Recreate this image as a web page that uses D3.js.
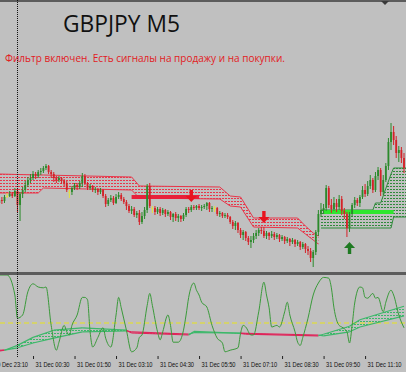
<!DOCTYPE html>
<html>
<head>
<meta charset="utf-8">
<script src="https://cdn.jsdelivr.net/npm/d3@7"></script>
<style>
  body { margin: 0; background: #c0c0c0; }
  svg { display: block; }
</style>
</head>
<body>
<div id="chart"></div>
<script>
// texts on the chart
var symbolTitle = 'GBPJPY M5';
var filterNote = 'Фильтр включен. Есть сигналы на продажу и на покупки.';

// M5 bars, the first one is 30 Dec 23:25
var firstBar = Date.UTC(2014, 11, 30, 23, 25);
var barMinutes = 5;

var opens = [
  152.97, 153.00, 152.99, 153.04, 153.04, 153.06, 153.04, 153.09, 152.95, 153.06,
  153.10, 153.15, 153.20, 153.22, 153.26, 153.24, 153.28, 153.29, 153.32, 153.34,
  153.28, 153.26, 153.22, 153.20, 153.22, 153.19, 153.17, 153.08, 153.08, 153.12,
  153.15, 153.13, 153.17, 153.24, 153.17, 153.12, 153.14, 153.10, 153.11, 153.08,
  153.10, 153.04, 152.96, 153.00, 153.02, 152.97, 153.03, 153.05, 153.01, 152.98,
  152.94, 152.89, 152.91, 152.85, 152.87, 152.78, 152.84, 152.90, 153.14, 152.92,
  152.92, 152.88, 152.91, 152.87, 152.90, 152.86, 152.88, 152.83, 152.86, 152.82,
  152.84, 152.81, 152.85, 152.91, 152.90, 152.93, 152.92, 152.94, 152.92, 152.93,
  152.94, 152.97, 152.91, 152.92, 152.92, 152.86, 152.87, 152.84, 152.85, 152.83,
  152.78, 152.74, 152.77, 152.70, 152.65, 152.68, 152.62, 152.58, 152.60, 152.64,
  152.67, 152.70, 152.69, 152.64, 152.67, 152.64, 152.66, 152.63, 152.65, 152.61,
  152.63, 152.59, 152.61, 152.58, 152.60, 152.56, 152.58, 152.53, 152.56, 152.51,
  152.49, 152.42, 152.48, 152.68, 152.86, 152.90, 152.92, 153.12, 152.95, 152.91,
  152.97, 152.93, 153.01, 152.89, 152.86, 152.72, 152.86, 152.95, 153.00, 152.97,
  153.03, 153.10, 153.06, 153.14, 153.20, 153.10, 153.24, 153.30, 153.08, 153.20,
  153.34, 153.58, 153.68, 153.60, 153.47, 153.50, 153.42
];
var highs = [
  153.03, 153.03, 153.05, 153.07, 153.09, 153.08, 153.12, 153.11, 153.08, 153.13,
  153.19, 153.23, 153.26, 153.29, 153.28, 153.30, 153.32, 153.34, 153.36, 153.35,
  153.30, 153.28, 153.24, 153.24, 153.23, 153.21, 153.19, 153.10, 153.14, 153.17,
  153.17, 153.19, 153.27, 153.26, 153.18, 153.16, 153.15, 153.13, 153.12, 153.12,
  153.11, 153.06, 153.02, 153.05, 153.04, 153.06, 153.08, 153.07, 153.03, 153.00,
  152.96, 152.94, 152.93, 152.89, 152.90, 152.88, 152.93, 153.16, 153.17, 152.94,
  152.94, 152.93, 152.93, 152.92, 152.91, 152.90, 152.89, 152.87, 152.88, 152.86,
  152.85, 152.87, 152.93, 152.93, 152.95, 152.95, 152.95, 152.96, 152.95, 152.96,
  152.98, 152.98, 152.94, 152.94, 152.93, 152.89, 152.88, 152.87, 152.87, 152.84,
  152.80, 152.79, 152.78, 152.72, 152.70, 152.69, 152.64, 152.64, 152.67, 152.70,
  152.72, 152.73, 152.73, 152.69, 152.68, 152.69, 152.68, 152.67, 152.66, 152.65,
  152.64, 152.63, 152.62, 152.62, 152.61, 152.60, 152.59, 152.58, 152.57, 152.54,
  152.52, 152.50, 152.70, 152.90, 152.97, 152.96, 153.15, 153.14, 153.01, 153.03,
  153.01, 153.05, 153.04, 152.92, 152.88, 152.88, 152.97, 153.03, 153.02, 153.05,
  153.14, 153.16, 153.19, 153.25, 153.22, 153.28, 153.33, 153.32, 153.25, 153.37,
  153.62, 153.77, 153.74, 153.64, 153.54, 153.53, 153.47
];
var lows = [
  152.95, 152.96, 152.97, 153.02, 153.03, 153.02, 153.03, 152.88, 152.79, 153.02,
  153.08, 153.13, 153.17, 153.20, 153.21, 153.22, 153.25, 153.27, 153.30, 153.26,
  153.22, 153.18, 153.17, 153.18, 153.16, 153.14, 153.08, 153.02, 153.05, 153.10,
  153.10, 153.11, 153.13, 153.15, 153.10, 153.10, 153.08, 153.07, 153.05, 153.06,
  153.02, 152.93, 152.94, 152.98, 152.95, 152.96, 153.01, 152.99, 152.96, 152.90,
  152.87, 152.86, 152.83, 152.82, 152.75, 152.76, 152.81, 152.87, 152.92, 152.87,
  152.85, 152.86, 152.84, 152.85, 152.83, 152.84, 152.80, 152.78, 152.79, 152.78,
  152.78, 152.79, 152.83, 152.87, 152.88, 152.90, 152.90, 152.90, 152.89, 152.91,
  152.90, 152.88, 152.88, 152.88, 152.84, 152.83, 152.82, 152.82, 152.81, 152.76,
  152.71, 152.70, 152.67, 152.62, 152.60, 152.59, 152.55, 152.52, 152.57, 152.61,
  152.64, 152.66, 152.62, 152.61, 152.60, 152.62, 152.60, 152.61, 152.58, 152.59,
  152.56, 152.57, 152.54, 152.56, 152.53, 152.54, 152.50, 152.51, 152.47, 152.45,
  152.38, 152.33, 152.45, 152.64, 152.83, 152.86, 152.89, 152.92, 152.87, 152.89,
  152.88, 152.90, 152.85, 152.81, 152.63, 152.68, 152.83, 152.92, 152.94, 152.93,
  153.01, 153.03, 153.04, 153.11, 153.07, 153.08, 153.20, 153.04, 153.05, 153.18,
  153.30, 153.50, 153.55, 153.42, 153.38, 153.37, 153.27
];
var closes = [
  153.00, 152.99, 153.03, 153.04, 153.06, 153.04, 153.09, 152.95, 153.06, 153.10,
  153.15, 153.20, 153.22, 153.26, 153.24, 153.28, 153.29, 153.32, 153.34, 153.28,
  153.26, 153.22, 153.20, 153.22, 153.19, 153.17, 153.10, 153.08, 153.12, 153.15,
  153.13, 153.17, 153.24, 153.17, 153.12, 153.14, 153.10, 153.11, 153.08, 153.10,
  153.04, 152.96, 153.00, 153.02, 152.97, 153.03, 153.05, 153.01, 152.98, 152.94,
  152.89, 152.91, 152.85, 152.87, 152.78, 152.84, 152.90, 153.14, 152.94, 152.92,
  152.88, 152.91, 152.87, 152.90, 152.86, 152.88, 152.83, 152.86, 152.82, 152.84,
  152.81, 152.85, 152.91, 152.90, 152.93, 152.92, 152.94, 152.92, 152.93, 152.94,
  152.97, 152.91, 152.92, 152.92, 152.86, 152.87, 152.84, 152.85, 152.83, 152.78,
  152.74, 152.77, 152.70, 152.65, 152.68, 152.62, 152.58, 152.60, 152.64, 152.67,
  152.70, 152.69, 152.64, 152.67, 152.64, 152.66, 152.63, 152.65, 152.61, 152.63,
  152.59, 152.61, 152.58, 152.60, 152.56, 152.58, 152.53, 152.56, 152.51, 152.49,
  152.42, 152.48, 152.68, 152.86, 152.90, 152.92, 153.12, 152.95, 152.91, 152.97,
  152.93, 153.01, 152.89, 152.86, 152.72, 152.86, 152.95, 153.00, 152.97, 153.03,
  153.10, 153.06, 153.14, 153.20, 153.10, 153.24, 153.30, 153.08, 153.20, 153.34,
  153.58, 153.68, 153.60, 153.47, 153.50, 153.42, 153.32
];

// filter channel (bar index, upper / lower edge)
var sellBandBars = [0, 15, 17, 51, 54, 85, 89, 93, 98, 115, 118, 121, 123];
var sellBandTop = [153.26, 153.25, 153.25, 153.23, 153.14, 153.13, 153.04, 153.03, 152.82, 152.82, 152.74, 152.67, 152.64];
var sellBandBottom = [153.07, 153.07, 153.12, 153.10, 153.02, 153.01, 152.94, 152.93, 152.73, 152.72, 152.66, 152.60, 152.56];
var buyBandBars = [124, 144, 145, 147, 151, 152, 157];
var buyBandTop = [152.90, 152.90, 152.97, 152.97, 153.26, 153.32, 153.32];
var buyBandBottom = [152.72, 152.72, 152.72, 152.72, 152.72, 152.83, 152.83];

// signal levels and arrows
var sellLineBars = [51, 77], sellLinePrice = 153.03;
var buyLineBars = [125, 152], buyLinePrice = 152.88;
var sellArrowBars = [74, 102], sellArrowPrices = [152.98, 152.77];
var buyArrowBars = [135], buyArrowPrices = [152.58];

// oscillator in the lower window
var oscBars = [0, 3, 6, 7, 9, 11, 13, 15, 17, 18, 20, 22, 23, 25, 26, 27, 28, 30, 32, 33,
  34, 35, 36, 38, 40, 41, 43, 45, 46, 47, 49, 51, 53, 54, 55, 57, 58, 59, 61, 62,
  63, 65, 66, 67, 69, 71, 72, 73, 75, 76, 77, 78, 80, 82, 84, 86, 87, 89, 92, 93,
  94, 95, 97, 98, 100, 102, 103, 104, 105, 107, 108, 110, 111, 112, 114, 115, 116, 117, 119, 121,
  123, 125, 127, 128, 129, 131, 132, 134, 135, 136, 137, 139, 140, 141, 142, 144, 145, 146, 148, 149,
  151, 152, 154, 156];
var oscValues = [100, 100, 75, 46, 50, 79, 89, 85, 84, 85, 37, 6, 16, 37, 29, 25, 37, 50, 72, 72,
  69, 29, 10, 22, 34, 21, 10, 50, 72, 59, 31, 4, 9, 22, 25, 62, 77, 62, 29, 19,
  29, 50, 37, 16, 16, 31, 50, 72, 90, 81, 75, 66, 60, 37, 21, 15, 4, 6, 9, 27,
  37, 35, 25, 25, 54, 91, 75, 59, 35, 37, 35, 54, 66, 50, 29, 16, 12, 22, 46, 75,
  90, 97, 96, 84, 59, 37, 35, 29, 15, 37, 65, 85, 84, 72, 71, 77, 71, 72, 54, 66,
  81, 75, 50, 34];
var oscLevel = 40;

// fast / slow averages of the oscillator
var maBars = [0, 2, 7, 13, 21, 32, 49, 51, 73, 75, 93, 95, 123, 125, 135, 139, 156];
var maFast = [5, 6, 12, 22, 31, 34, 31, 27.5, 25, 29.5, 27, 26, 24, 26, 36, 44, 61];
var maSlow = [6, 6, 9, 15, 21, 29, 30, 29, 26, 28, 27.5, 27, 25, 24, 29, 35, 49];

// time labels
var dayStarts = ['31 Dec 00:00'];
var timeTicks = ['30 Dec 23:10', '31 Dec 00:30', '31 Dec 01:50', '31 Dec 03:10', '31 Dec 04:30',
  '31 Dec 05:50', '31 Dec 07:10', '31 Dec 08:30', '31 Dec 09:50', '31 Dec 11:10', '31 Dec 12:30'];

var width = 406, height = 372;
var mainTop = 2, mainBottom = 272, oscTop = 275, oscBottom = 355;

var parseTick = d3.utcParse('%Y %d %b %H:%M');
function tickDate(s) { return parseTick('2014 ' + s); }
function barTime(i) { return new Date(firstBar + i * barMinutes * 60000); }

var x = d3.scaleUtc()
  .domain([barTime(0), barTime(156)])
  .range([-0.7, 404]);

var y = d3.scaleLinear()
  .domain([152.28, 154.98])
  .range([mainBottom, mainTop]);

var yOsc = d3.scaleLinear()
  .domain([0, 100])
  .range([oscBottom, oscTop]);

var bars = closes.map(function(c, i) {
  return { t: barTime(i), o: opens[i], h: highs[i], l: lows[i], c: c };
});

var svg = d3.select('#chart').append('svg')
  .attr('width', width)
  .attr('height', height);

svg.append('rect').attr('width', width).attr('height', height).attr('fill', '#c0c0c0');

// dotted fill patterns
var defs = svg.append('defs');
function dotPattern(id, color) {
  var p = defs.append('pattern')
    .attr('id', id)
    .attr('width', 3)
    .attr('height', 3)
    .attr('patternUnits', 'userSpaceOnUse');
  p.append('rect').attr('width', 2).attr('height', 1).attr('fill', color);
}
dotPattern('dotsRed', '#e8364a');
dotPattern('dotsGreen', '#2f8a3a');
dotPattern('dotsOscGreen', '#3cb86a');
dotPattern('dotsOscRed', '#e0245a');

defs.append('clipPath').attr('id', 'mainClip')
  .append('rect').attr('x', 0).attr('y', mainTop).attr('width', width).attr('height', mainBottom - mainTop);

var main = svg.append('g').attr('clip-path', 'url(#mainClip)');

// channel bands
function drawBand(barsIdx, top, bottom, pattern, edge) {
  var pts = barsIdx.map(function(b, i) { return { t: barTime(b), hi: top[i], lo: bottom[i] }; });
  var area = d3.area()
    .x(function(d) { return x(d.t); })
    .y0(function(d) { return y(d.lo); })
    .y1(function(d) { return y(d.hi); });
  main.append('path').datum(pts).attr('d', area).attr('fill', 'url(#' + pattern + ')');
  var lineTop = d3.line().x(function(d) { return x(d.t); }).y(function(d) { return y(d.hi); });
  var lineBot = d3.line().x(function(d) { return x(d.t); }).y(function(d) { return y(d.lo); });
  main.append('path').datum(pts).attr('d', lineTop).attr('fill', 'none').attr('stroke', edge).attr('stroke-width', 1);
  main.append('path').datum(pts).attr('d', lineBot).attr('fill', 'none').attr('stroke', edge).attr('stroke-width', 1);
}
drawBand(sellBandBars, sellBandTop, sellBandBottom, 'dotsRed', '#e8364a');
drawBand(buyBandBars, buyBandTop, buyBandBottom, 'dotsGreen', '#2f8a3a');

// signal levels
main.append('line')
  .attr('x1', x(barTime(sellLineBars[0]))).attr('x2', x(barTime(sellLineBars[1])))
  .attr('y1', y(sellLinePrice)).attr('y2', y(sellLinePrice))
  .attr('stroke', '#e8203a').attr('stroke-width', 4);
main.append('line')
  .attr('x1', x(barTime(buyLineBars[0]))).attr('x2', x(barTime(buyLineBars[1])))
  .attr('y1', y(buyLinePrice)).attr('y2', y(buyLinePrice))
  .attr('stroke', '#2ee62e').attr('stroke-width', 4);

// candles
function candleColor(d) {
  if (d.c > d.o) return '#2b8a2b';
  if (d.c < d.o) return '#d42228';
  return '#e6e23a';
}
var candles = main.selectAll('g.candle').data(bars).enter().append('g').attr('class', 'candle');
candles.append('line')
  .attr('x1', function(d) { return x(d.t); })
  .attr('x2', function(d) { return x(d.t); })
  .attr('y1', function(d) { return y(d.h); })
  .attr('y2', function(d) { return y(d.l); })
  .attr('stroke', candleColor)
  .attr('stroke-width', 1);
candles.append('rect')
  .attr('x', function(d) { return x(d.t) - 0.9; })
  .attr('width', 1.8)
  .attr('y', function(d) { return y(Math.max(d.o, d.c)); })
  .attr('height', function(d) { return Math.max(1, Math.abs(y(d.o) - y(d.c))); })
  .attr('fill', candleColor);

// signal arrows, tip at the given price
var arrowDown = 'M0,0 L-5.5,-6 L-1.7,-6 L-1.7,-12 L1.7,-12 L1.7,-6 L5.5,-6 Z';
var arrowUp = 'M0,0 L-5.5,6 L-1.7,6 L-1.7,12 L1.7,12 L1.7,6 L5.5,6 Z';
sellArrowBars.forEach(function(b, i) {
  main.append('path').attr('d', arrowDown)
    .attr('transform', 'translate(' + x(barTime(b)) + ',' + y(sellArrowPrices[i]) + ')')
    .attr('fill', '#e8141e');
});
buyArrowBars.forEach(function(b, i) {
  main.append('path').attr('d', arrowUp)
    .attr('transform', 'translate(' + x(barTime(b)) + ',' + y(buyArrowPrices[i]) + ')')
    .attr('fill', '#1f7a22');
});

// lower window
var osc = svg.append('g');

osc.append('line')
  .attr('x1', 0).attr('x2', width)
  .attr('y1', yOsc(oscLevel)).attr('y2', yOsc(oscLevel))
  .attr('stroke', '#e8e41a').attr('stroke-width', 1).attr('stroke-dasharray', '5,3');

for (var k = 0; k < maBars.length - 1; k++) {
  var seg = [k, k + 1].map(function(j) { return { t: barTime(maBars[j]), f: maFast[j], s: maSlow[j] }; });
  var up = maFast[k] + maFast[k + 1] >= maSlow[k] + maSlow[k + 1];
  var col = up ? '#3cb86a' : '#e0245a';
  osc.append('path').datum(seg)
    .attr('d', d3.area()
      .x(function(d) { return x(d.t); })
      .y0(function(d) { return yOsc(d.s); })
      .y1(function(d) { return yOsc(d.f); }))
    .attr('fill', up ? 'url(#dotsOscGreen)' : 'url(#dotsOscRed)');
  osc.append('path').datum(seg)
    .attr('d', d3.line().x(function(d) { return x(d.t); }).y(function(d) { return yOsc(d.f); }))
    .attr('fill', 'none').attr('stroke', col).attr('stroke-width', 1.2);
  osc.append('path').datum(seg)
    .attr('d', d3.line().x(function(d) { return x(d.t); }).y(function(d) { return yOsc(d.s); }))
    .attr('fill', 'none').attr('stroke', col).attr('stroke-width', 1.2);
}

var oscLine = d3.line()
  .curve(d3.curveMonotoneX)
  .x(function(d, i) { return x(barTime(oscBars[i])); })
  .y(function(d) { return yOsc(d); });
osc.append('path').datum(oscValues)
  .attr('d', oscLine)
  .attr('fill', 'none')
  .attr('stroke', '#3a9a3a')
  .attr('stroke-width', 1);

// window frame
svg.append('rect').attr('x', 0).attr('y', 0).attr('width', width).attr('height', 2).attr('fill', '#5c5c5c');
svg.append('rect').attr('x', 0).attr('y', mainBottom).attr('width', width).attr('height', 3).attr('fill', '#5c5c5c');
svg.append('path').attr('d', 'M381,1 L389,1 L385,5 Z').attr('fill', '#3a3a3a');

// day separator
dayStarts.forEach(function(s) {
  var xs = Math.round(x(tickDate(s))) + 0.5;
  svg.append('line')
    .attr('x1', xs).attr('x2', xs)
    .attr('y1', 0).attr('y2', oscBottom + 2)
    .attr('stroke', '#111').attr('stroke-width', 1).attr('stroke-dasharray', '1,1');
});

// time axis
var xAxis = svg.append('g')
  .attr('transform', 'translate(0,' + (oscBottom + 1) + ')')
  .call(d3.axisBottom(x)
    .tickValues(timeTicks.map(tickDate))
    .tickSize(3)
    .tickFormat(d3.utcFormat('%d %b %H:%M')));
xAxis.select('.domain').remove();
xAxis.selectAll('line').attr('stroke', '#222');
xAxis.selectAll('text')
  .attr('text-anchor', 'start')
  .attr('x', 2)
  .attr('y', 10.5)
  .attr('dy', 0)
  .attr('fill', '#111')
  .attr('textLength', 34)
  .attr('lengthAdjust', 'spacingAndGlyphs')
  .style('font-family', 'Liberation Sans, Arial, sans-serif')
  .style('font-size', '7.5px');

// titles
svg.append('text')
  .attr('x', 63).attr('y', 32)
  .attr('textLength', 117).attr('lengthAdjust', 'spacingAndGlyphs')
  .style('font-family', 'Open Sans, sans-serif')
  .style('font-size', '23px')
  .attr('fill', '#111')
  .text(symbolTitle);
svg.append('text')
  .attr('x', 5).attr('y', 62)
  .attr('textLength', 280).attr('lengthAdjust', 'spacingAndGlyphs')
  .style('font-family', 'Open Sans, sans-serif')
  .style('font-size', '10.5px')
  .attr('fill', '#e21b23')
  .text(filterNote);
</script>
</body>
</html>
